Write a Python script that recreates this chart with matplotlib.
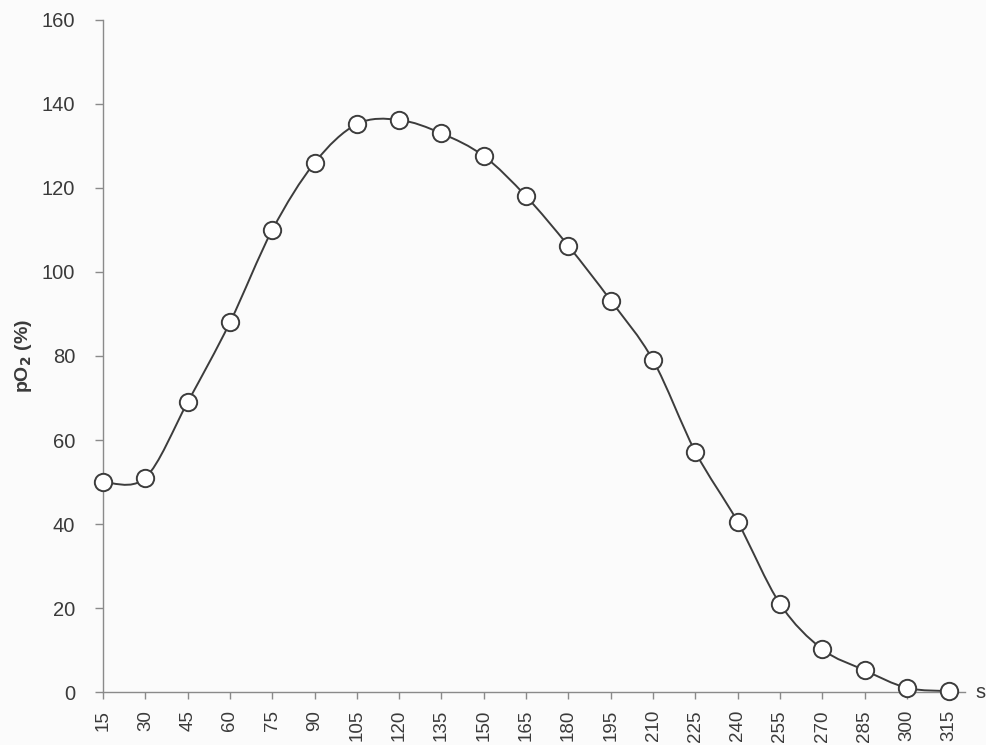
import numpy as np
import matplotlib
matplotlib.use('Agg')
import matplotlib.pyplot as plt
from matplotlib.path import Path
from matplotlib.patches import PathPatch

# data
time_s = [15, 30, 45, 60, 75, 90, 105, 120, 135, 150, 165, 180, 195, 210,
          225, 240, 255, 270, 285, 300, 315]
po2 = [50, 51, 69, 88, 110, 126, 135.2, 136.2, 133, 127.6, 118, 106.2, 93.2, 79,
       57.2, 40.5, 21, 10.2, 5.2, 1, 0.2]
yticks = [0, 20, 40, 60, 80, 100, 120, 140, 160]

txt_color = '#3a3a3a'
axis_color = '#8a8a8a'
line_color = '#3c3c3c'

plt.rcParams['font.family'] = ['Liberation Sans', 'DejaVu Sans']

fig = plt.figure(figsize=(9.87, 7.45), dpi=100)
fig.patch.set_facecolor('#fbfbfb')
ax = fig.add_axes([0.1044, 0.0711, 0.873, 0.9021])
ax.set_facecolor('#fbfbfb')

# smoothed line (catmull-rom -> cubic bezier, like a spreadsheet "smooth line")
x = np.array(time_s, dtype=float)
y = np.array(po2, dtype=float)
pts = np.column_stack([x, y])
verts = [pts[0]]
codes = [Path.MOVETO]
n = len(pts)
for i in range(n - 1):
    p0 = pts[max(i - 1, 0)]
    p1 = pts[i]
    p2 = pts[i + 1]
    p3 = pts[min(i + 2, n - 1)]
    c1 = p1 + (p2 - p0) / 6.0
    c2 = p2 - (p3 - p1) / 6.0
    verts += [c1, c2, p2]
    codes += [Path.CURVE4] * 3
ax.add_patch(PathPatch(Path(verts, codes), facecolor='none', edgecolor=line_color,
                       lw=1.4, zorder=2, clip_on=False))

ax.plot(x, y, 'o', ms=12.5, mfc='white', mec=line_color, mew=1.4, zorder=3, clip_on=False)

ax.set_xlim(15, 320.5)
ax.set_ylim(0, 160)
ax.set_xticks(time_s)
ax.set_xticklabels([str(t) for t in time_s], rotation=90)
ax.set_yticks(yticks)

for side in ['top', 'right']:
    ax.spines[side].set_visible(False)
for side in ['left', 'bottom']:
    ax.spines[side].set_color(axis_color)
    ax.spines[side].set_linewidth(1.0)

ax.tick_params(axis='y', direction='out', length=6, width=1, color=axis_color,
               labelsize=14.5, labelcolor=txt_color, pad=14)
ax.tick_params(axis='x', direction='out', length=5, width=1, color=axis_color,
               labelsize=13.5, labelcolor=txt_color, pad=8)

ax.set_ylabel('pO$_\\mathbf{2}$ (%)', fontsize=14, fontweight='bold', color=txt_color)
ax.yaxis.set_label_coords(-0.08, 0.5)
ax.annotate('s', xy=(1, 0), xycoords='axes fraction', xytext=(8, 0),
            textcoords='offset points', fontsize=14.5, color=txt_color,
            ha='left', va='center')

fig.savefig('out.png', dpi=100, facecolor=fig.get_facecolor())
